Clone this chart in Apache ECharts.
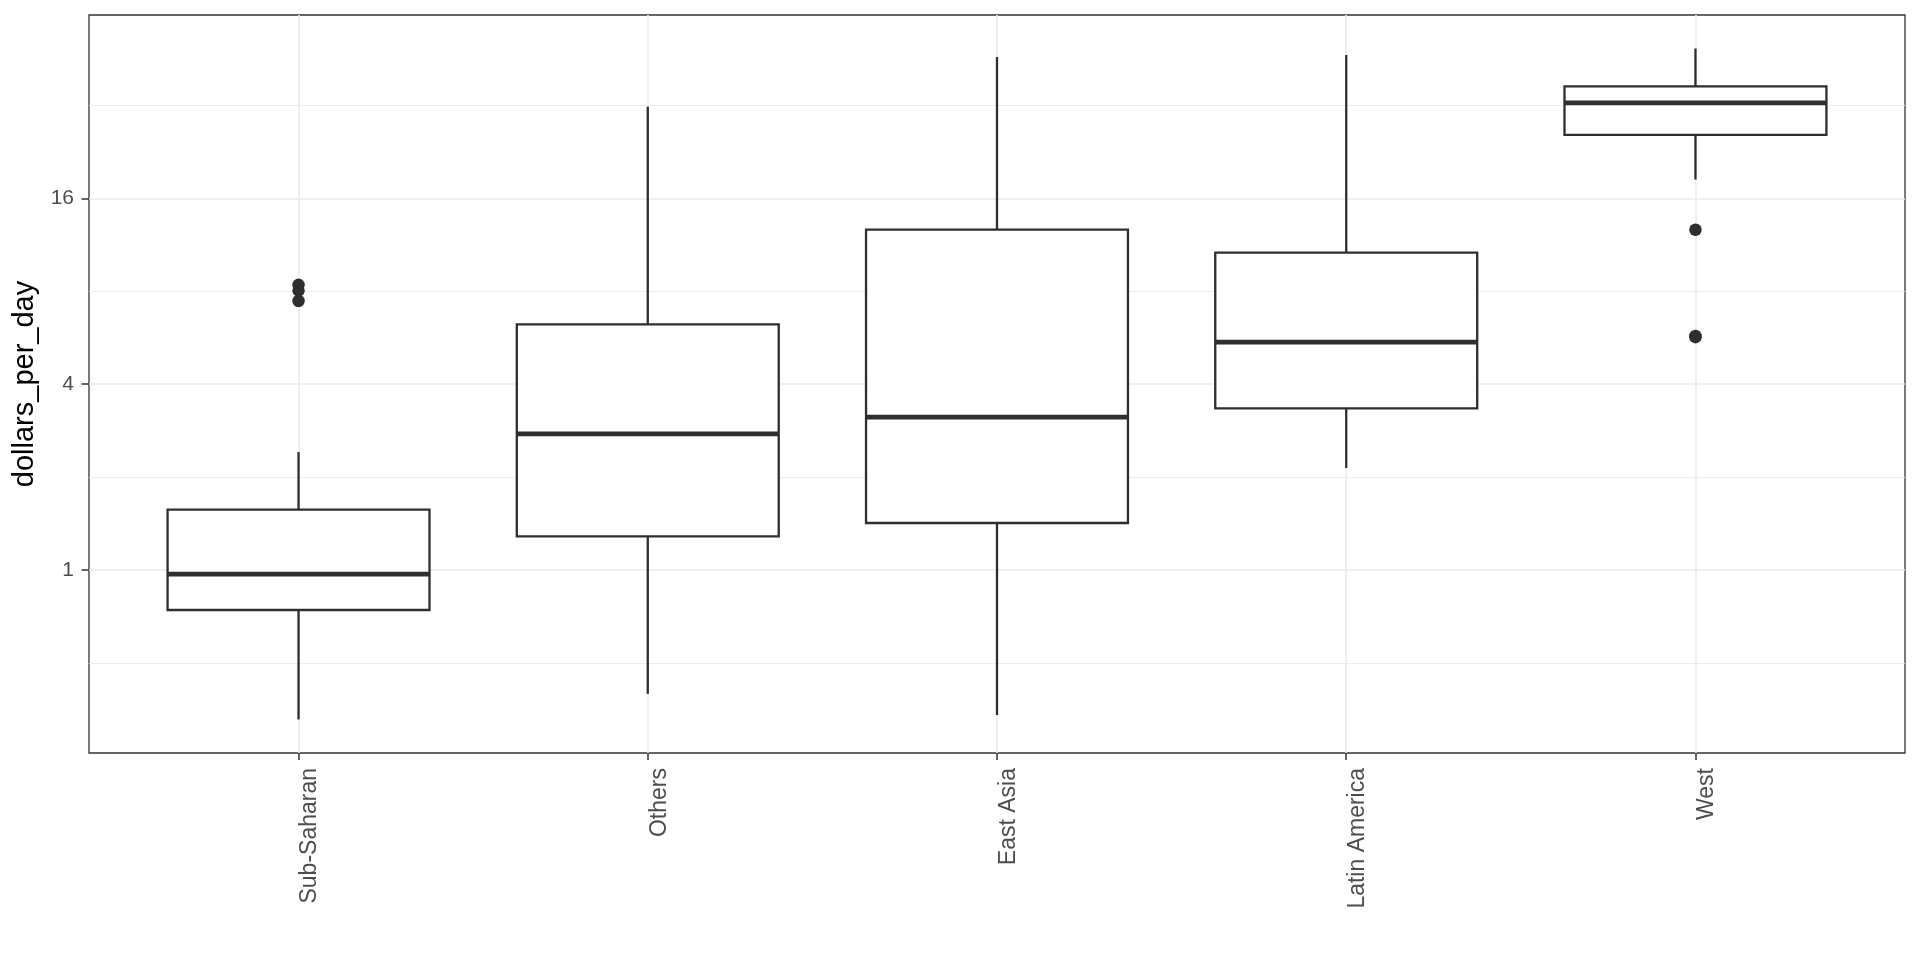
<!DOCTYPE html>
<html>
<head>
<meta charset="utf-8">
<script src="https://cdn.jsdelivr.net/npm/echarts@6/dist/echarts.min.js"></script>
<style>
  html, body { margin: 0; padding: 0; background: #ffffff; }
  #chart { width: 1920px; height: 960px; }
</style>
</head>
<body>
<div id="chart"></div>
<script>
// ---- data (dollars_per_day) ----
const categories   = ['Sub-Saharan', 'Others', 'East Asia', 'Latin America', 'West'];
const whiskerLow   = [0.328, 0.397, 0.339, 2.14, 18.4];
const quartile1    = [0.742, 1.285, 1.42, 3.34, 25.7];
const medianVals   = [0.97, 2.76, 3.13, 5.47, 32.6];
const quartile3    = [1.57, 6.25, 12.67, 10.67, 36.9];
const whiskerHigh  = [2.41, 31.7, 45.9, 46.6, 48.9];
const outlierGroup = ['Sub-Saharan', 'Sub-Saharan', 'Sub-Saharan', 'West', 'West', 'West'];
const outlierValue = [8.39, 8.04, 7.44, 12.66, 5.73, 5.68];
const majorTicks   = [1, 4, 16];
const minorTicks   = [0.5, 2, 8, 32];

// ---- build ----
const log2 = v => Math.log2(v);
const boxData = categories.map((c, i) => [
  i + 1,
  log2(whiskerLow[i]), log2(quartile1[i]), log2(medianVals[i]),
  log2(quartile3[i]), log2(whiskerHigh[i])
]);
const outlierData = outlierValue.map((v, i) => [categories.indexOf(outlierGroup[i]) + 1, log2(v)]);

const allVals = whiskerLow.concat(whiskerHigh, outlierValue).map(log2);
const lo = Math.min.apply(null, allVals), hi = Math.max.apply(null, allVals);
const pad = (hi - lo) * 0.05;
const yMin = lo - pad, yMax = hi + pad;

const INK = '#2e2e2e';
const GRID = '#EBEBEB';
const FONT = 'Liberation Sans, Arial, Helvetica, sans-serif';

const chart = echarts.init(document.getElementById('chart'), null, { renderer: 'canvas' });
chart.setOption({
  animation: false,
  backgroundColor: '#ffffff',
  grid: {
    left: 89, right: 15, top: 15, bottom: 207,
    show: true, borderColor: '#333333', borderWidth: 1.3, backgroundColor: 'transparent'
  },
  xAxis: {
    type: 'value', min: 0.4, max: 5.6, position: 'bottom',
    axisLine: { show: false, onZero: false },
    axisTick: { show: true, length: 7, customValues: [1, 2, 3, 4, 5], lineStyle: { color: '#333333', width: 1.5 } },
    axisLabel: {
      customValues: [1, 2, 3, 4, 5], rotate: 90, margin: 15, verticalAlign: 'top',
      color: '#4D4D4D', fontSize: 23, fontFamily: FONT,
      formatter: v => categories[Math.round(v) - 1] || ''
    },
    splitLine: { show: true, lineStyle: { color: GRID, width: 1.7 } }
  },
  yAxis: [
    {
      type: 'value', min: yMin, max: yMax, position: 'left',
      axisLine: { show: false, onZero: false },
      axisTick: { show: false, customValues: minorTicks.map(log2) },
      axisLabel: { show: false },
      splitLine: { show: true, lineStyle: { color: GRID, width: 0.9 } }
    },
    {
      type: 'value', min: yMin, max: yMax, position: 'left',
      name: 'dollars_per_day', nameLocation: 'middle', nameGap: 44, nameRotate: 90,
      nameTextStyle: { color: '#000000', fontSize: 29, fontFamily: FONT },
      axisLine: { show: false, onZero: false },
      axisTick: { show: true, length: 7.5, customValues: majorTicks.map(log2), lineStyle: { color: '#333333', width: 1.5 } },
      axisLabel: {
        customValues: majorTicks.map(log2), margin: 15,
        color: '#4D4D4D', fontSize: 21, fontFamily: FONT,
        formatter: v => String(Math.round(Math.pow(2, v)))
      },
      splitLine: { show: true, lineStyle: { color: GRID, width: 1.7 } }
    }
  ],
  series: [
    {
      type: 'custom',
      xAxisIndex: 0, yAxisIndex: 0,
      data: boxData,
      encode: { x: 0, y: [1, 2, 3, 4, 5] },
      renderItem: function (params, api) {
        const x = api.value(0);
        const pLo = api.coord([x, api.value(1)]);
        const pQ1 = api.coord([x, api.value(2)]);
        const pMed = api.coord([x, api.value(3)]);
        const pQ3 = api.coord([x, api.value(4)]);
        const pHi = api.coord([x, api.value(5)]);
        const halfW = api.size([0.75, 0])[0] / 2;
        const lineStyle = { stroke: INK, lineWidth: 2.3, fill: null };
        return {
          type: 'group',
          children: [
            { type: 'line', shape: { x1: pHi[0], y1: pHi[1], x2: pQ3[0], y2: pQ3[1] }, style: lineStyle },
            { type: 'line', shape: { x1: pQ1[0], y1: pQ1[1], x2: pLo[0], y2: pLo[1] }, style: lineStyle },
            { type: 'rect', shape: { x: pQ3[0] - halfW, y: pQ3[1], width: 2 * halfW, height: pQ1[1] - pQ3[1] },
              style: { fill: '#ffffff', stroke: INK, lineWidth: 2.3 } },
            { type: 'line', shape: { x1: pMed[0] - halfW, y1: pMed[1], x2: pMed[0] + halfW, y2: pMed[1] },
              style: { stroke: INK, lineWidth: 4.7 } }
          ]
        };
      }
    },
    {
      type: 'scatter',
      xAxisIndex: 0, yAxisIndex: 0,
      data: outlierData,
      symbol: 'circle', symbolSize: 12.5,
      itemStyle: { color: INK, opacity: 1 },
      z: 5
    }
  ]
});
</script>
</body>
</html>
